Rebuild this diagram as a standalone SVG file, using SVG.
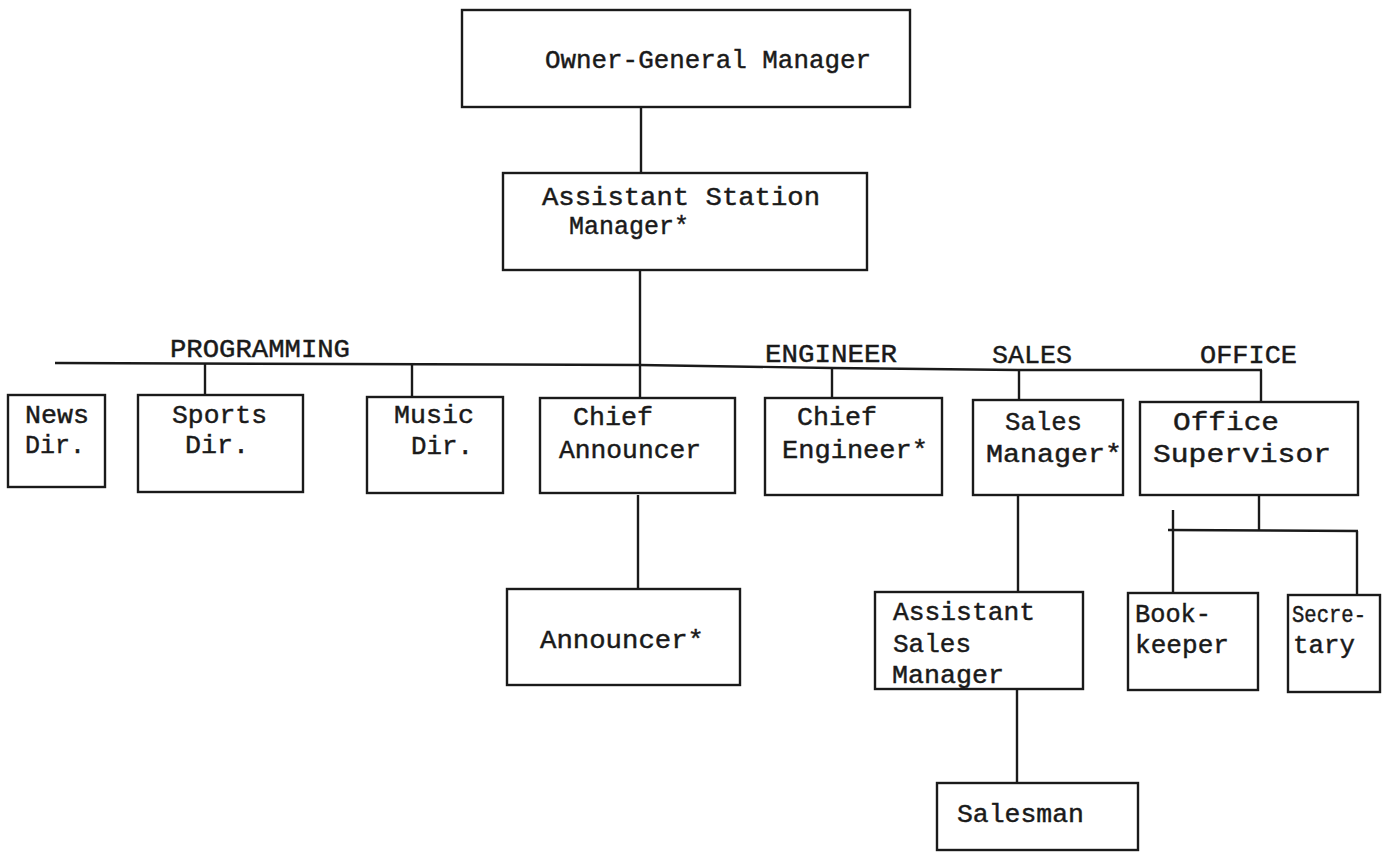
<svg xmlns="http://www.w3.org/2000/svg" width="1382" height="854" viewBox="0 0 1382 854">
<style>
.box{fill:none;stroke:#1a1a1a;stroke-width:2.4}
.ln{fill:none;stroke:#1a1a1a;stroke-width:2.4}
text{font-family:"Liberation Mono","Courier New",monospace;font-size:26px;fill:#1a1a1a;stroke:#1a1a1a;stroke-width:0.45}
.sm{font-size:24px}
</style>
<rect width="1382" height="854" fill="#fff"/>
<g id="connectors">
<line class="ln" x1="641" y1="107" x2="641" y2="173"/>
<line class="ln" x1="640" y1="270" x2="640" y2="398"/>
<polyline class="ln" points="55,363 640,365 832,368 1019,370 1262,370"/>
<line class="ln" x1="205" y1="364" x2="205" y2="395"/>
<line class="ln" x1="412" y1="364" x2="412" y2="397"/>
<line class="ln" x1="832" y1="368" x2="832" y2="398"/>
<line class="ln" x1="1019" y1="370" x2="1019" y2="400"/>
<line class="ln" x1="1261" y1="370" x2="1261" y2="402"/>
<line class="ln" x1="638" y1="495" x2="638" y2="589"/>
<line class="ln" x1="1018" y1="495" x2="1018" y2="592"/>
<line class="ln" x1="1017" y1="689" x2="1017" y2="783"/>
<line class="ln" x1="1259" y1="495" x2="1259" y2="530"/>
<line class="ln" x1="1168" y1="530" x2="1358" y2="531"/>
<line class="ln" x1="1173" y1="510" x2="1173" y2="593"/>
<line class="ln" x1="1357" y1="531" x2="1357" y2="595"/>
</g>
<g id="labels">
<text x="170" y="357" textLength="180" lengthAdjust="spacingAndGlyphs">PROGRAMMING</text>
<text x="765" y="362" textLength="132" lengthAdjust="spacingAndGlyphs">ENGINEER</text>
<text x="992" y="363" textLength="80" lengthAdjust="spacingAndGlyphs">SALES</text>
<text x="1200" y="363" textLength="97" lengthAdjust="spacingAndGlyphs">OFFICE</text>
</g>
<g id="owner">
<rect class="box" x="462" y="10" width="448" height="97"/>
<text x="545" y="68" textLength="326" lengthAdjust="spacingAndGlyphs">Owner-General Manager</text>
</g>
<g id="asst-station-manager">
<rect class="box" x="503" y="173" width="364" height="97"/>
<text x="542" y="205" textLength="278" lengthAdjust="spacingAndGlyphs">Assistant Station</text>
<text x="569" y="234" textLength="120" lengthAdjust="spacingAndGlyphs">Manager*</text>
</g>
<g id="news-dir">
<rect class="box" x="8" y="395" width="97" height="92"/>
<text x="25" y="423" textLength="64" lengthAdjust="spacingAndGlyphs">News</text>
<text x="25" y="453" textLength="60" lengthAdjust="spacingAndGlyphs">Dir.</text>
</g>
<g id="sports-dir">
<rect class="box" x="138" y="395" width="165" height="97"/>
<text x="172" y="423" textLength="95" lengthAdjust="spacingAndGlyphs">Sports</text>
<text x="185" y="453" textLength="64" lengthAdjust="spacingAndGlyphs">Dir.</text>
</g>
<g id="music-dir">
<rect class="box" x="367" y="397" width="136" height="96"/>
<text x="394" y="423" textLength="80" lengthAdjust="spacingAndGlyphs">Music</text>
<text x="411" y="454" textLength="62" lengthAdjust="spacingAndGlyphs">Dir.</text>
</g>
<g id="chief-announcer">
<rect class="box" x="540" y="398" width="195" height="95"/>
<text x="573" y="425" textLength="80" lengthAdjust="spacingAndGlyphs">Chief</text>
<text x="559" y="458" textLength="142" lengthAdjust="spacingAndGlyphs">Announcer</text>
</g>
<g id="chief-engineer">
<rect class="box" x="765" y="398" width="177" height="97"/>
<text x="797" y="425" textLength="80" lengthAdjust="spacingAndGlyphs">Chief</text>
<text x="782" y="458" textLength="146" lengthAdjust="spacingAndGlyphs">Engineer*</text>
</g>
<g id="sales-manager">
<rect class="box" x="973" y="400" width="150" height="95"/>
<text x="1005" y="430" textLength="77" lengthAdjust="spacingAndGlyphs">Sales</text>
<text x="986" y="462" textLength="136" lengthAdjust="spacingAndGlyphs">Manager*</text>
</g>
<g id="office-supervisor">
<rect class="box" x="1140" y="402" width="218" height="93"/>
<text x="1173" y="430" textLength="106" lengthAdjust="spacingAndGlyphs">Office</text>
<text x="1153" y="462" textLength="178" lengthAdjust="spacingAndGlyphs">Supervisor</text>
</g>
<g id="announcer">
<rect class="box" x="507" y="589" width="233" height="96"/>
<text x="540" y="648" textLength="164" lengthAdjust="spacingAndGlyphs">Announcer*</text>
</g>
<g id="asst-sales-manager">
<rect class="box" x="875" y="592" width="208" height="97"/>
<text x="893" y="620" textLength="142" lengthAdjust="spacingAndGlyphs">Assistant</text>
<text x="893" y="652" textLength="78" lengthAdjust="spacingAndGlyphs">Sales</text>
<text x="892" y="683" textLength="112" lengthAdjust="spacingAndGlyphs">Manager</text>
</g>
<g id="bookkeeper">
<rect class="box" x="1128" y="593" width="130" height="97"/>
<text x="1135" y="622" textLength="76" lengthAdjust="spacingAndGlyphs">Book-</text>
<text x="1135" y="653" textLength="94" lengthAdjust="spacingAndGlyphs">keeper</text>
</g>
<g id="secretary">
<rect class="box" x="1288" y="595" width="92" height="97"/>
<text class="sm" x="1292" y="622" textLength="74" lengthAdjust="spacingAndGlyphs">Secre-</text>
<text x="1293" y="653" textLength="62" lengthAdjust="spacingAndGlyphs">tary</text>
</g>
<g id="salesman">
<rect class="box" x="937" y="783" width="201" height="67"/>
<text x="957" y="822" textLength="127" lengthAdjust="spacingAndGlyphs">Salesman</text>
</g>
</svg>
